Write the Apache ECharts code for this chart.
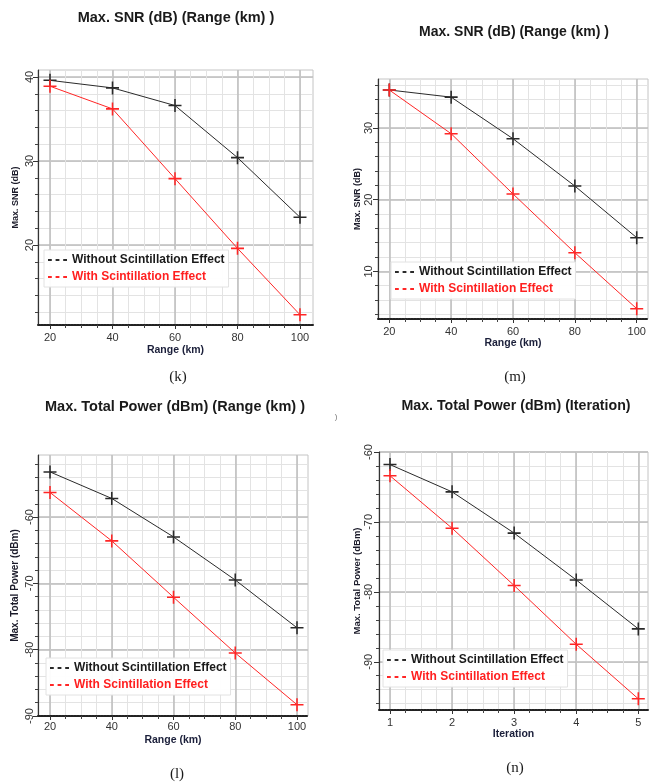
<!DOCTYPE html>
<html>
<head>
<meta charset="utf-8">
<script src="https://cdn.jsdelivr.net/npm/echarts@6/dist/echarts.min.js"></script>
<style>
html,body{margin:0;padding:0;background:#fff;}
#c{width:649px;height:783px;}
</style>
</head>
<body>
<div id="c"></div>
<script>
// ---- data ----
const rangeKm = [20, 40, 60, 80, 100];
const iterations = [1, 2, 3, 4, 5];

const snrK_without = [39.6, 38.7, 36.6, 30.4, 23.3];
const snrK_with    = [38.9, 36.2, 27.9, 19.6, 11.7];
const snrM_without = [35.3, 34.3, 28.5, 21.9, 14.7];
const snrM_with    = [35.3, 29.2, 20.8, 12.6, 4.8];
const powL_without = [-53.2, -57.2, -63.0, -69.5, -76.7];
const powL_with    = [-56.3, -63.6, -72.1, -80.5, -88.3];
const powN_without = [-61.8, -65.7, -71.6, -78.3, -85.3];
const powN_with    = [-63.4, -70.9, -79.1, -87.5, -95.3];

// ---- tick labels / grid ticks ----
const rangeGridTicks  = [20, 25, 30, 35, 40, 45, 50, 55, 60, 65, 70, 75, 80, 85, 90, 95, 100];
const rangeLabelTicks = [20, 40, 60, 80, 100];
const iterGridTicks   = [1, 1.25, 1.5, 1.75, 2, 2.25, 2.5, 2.75, 3, 3.25, 3.5, 3.75, 4, 4.25, 4.5, 4.75, 5];
const iterLabelTicks  = [1, 2, 3, 4, 5];
const snrKGridTicks   = [12, 14, 16, 18, 20, 22, 24, 26, 28, 30, 32, 34, 36, 38, 40];
const snrKLabelTicks  = [20, 30, 40];
const snrMGridTicks   = [4, 6, 8, 10, 12, 14, 16, 18, 20, 22, 24, 26, 28, 30, 32, 34, 36];
const snrMLabelTicks  = [10, 20, 30];
const powLGridTicks   = [-90, -88, -86, -84, -82, -80, -78, -76, -74, -72, -70, -68, -66, -64, -62, -60, -58, -56, -54, -52];
const powLLabelTicks  = [-90, -80, -70, -60];
const powNGridTicks   = [-96, -94, -92, -90, -88, -86, -84, -82, -80, -78, -76, -74, -72, -70, -68, -66, -64, -62, -60];
const powNLabelTicks  = [-90, -80, -70, -60];

const nameWithout = 'Without Scintillation Effect';
const nameWith = 'With Scintillation Effect';

// ---- styling / layout ----
const FONT = 'Liberation Sans';
const BLACK = '#2a2a2a';
const RED = '#ff2626';
const PLUS = 'path://M4.4,0H5.6V4.4H10V5.6H5.6V10H4.4V5.6H0V4.4H4.4Z';
const DASHES = 'path://M0,0H4V2H0Z M8,0H12V2H8Z M16,0H20V2H16Z';

const panels = [
  { grid:{left:38, top:70, width:275, height:255}, x:rangeKm, xMin:16.16, xMax:104.16, yMin:10.48, yMax:40.83,
    xGrid:rangeGridTicks, xLab:rangeLabelTicks, yGrid:snrKGridTicks, yLab:snrKLabelTicks,
    s1:snrK_without, s2:snrK_with, xName:'Range (km)', yName:'Max. SNR (dB)', yNameSize:9,
    xLabMargin:7, xNameGap:20, yLabMargin:3, yNameGap:18, legend:{left:44, top:250} },
  { grid:{left:378, top:79, width:270, height:240}, x:rangeKm, xMin:16.35, xMax:103.65, yMin:3.36, yMax:36.83,
    xGrid:rangeGridTicks, xLab:rangeLabelTicks, yGrid:snrMGridTicks, yLab:snrMLabelTicks,
    s1:snrM_without, s2:snrM_with, xName:'Range (km)', yName:'Max. SNR (dB)', yNameSize:9,
    xLabMargin:7, xNameGap:19, yLabMargin:4, yNameGap:15, legend:{left:391, top:262} },
  { grid:{left:38, top:455, width:270, height:261}, x:rangeKm, xMin:16.11, xMax:103.56, yMin:-90, yMax:-50.65,
    xGrid:rangeGridTicks, xLab:rangeLabelTicks, yGrid:powLGridTicks, yLab:powLLabelTicks,
    s1:powL_without, s2:powL_with, xName:'Range (km)', yName:'Max. Total Power (dBm)', yNameSize:10,
    xLabMargin:5, xNameGap:19, yLabMargin:3, yNameGap:18, legend:{left:46, top:658} },
  { grid:{left:379, top:452, width:269, height:258}, x:iterations, xMin:0.823, xMax:5.156, yMin:-96.9, yMax:-60,
    xGrid:iterGridTicks, xLab:iterLabelTicks, yGrid:powNGridTicks, yLab:powNLabelTicks,
    s1:powN_without, s2:powN_with, xName:'Iteration', yName:'Max. Total Power (dBm)', yNameSize:9.5,
    xLabMargin:7, xNameGap:19, yLabMargin:5, yNameGap:16, legend:{left:383, top:650} }
];

const grids = [], xAxes = [], yAxes = [], series = [], legends = [];
panels.forEach((p, i) => {
  grids.push(Object.assign({ show:true, borderColor:'#c4c4c4', borderWidth:1, backgroundColor:'#fff' }, p.grid));
  // minor x axis
  xAxes.push({ type:'value', gridIndex:i, position:'bottom', min:p.xMin, max:p.xMax,
    axisLine:{show:false}, axisLabel:{show:false},
    axisTick:{show:true, customValues:p.xGrid, length:3, lineStyle:{color:'#444'}},
    splitLine:{show:true, lineStyle:{color:'#e3e3e3', width:1}} });
  // major x axis
  xAxes.push({ type:'value', gridIndex:i, position:'bottom', min:p.xMin, max:p.xMax,
    name:p.xName, nameLocation:'middle', nameGap:p.xNameGap,
    nameTextStyle:{fontFamily:FONT, fontSize:10.5, fontWeight:'bold', color:'#1b1f3a'},
    axisLine:{show:true, lineStyle:{color:'#222', width:2, type:[2,1]}},
    axisTick:{show:true, customValues:p.xLab, length:4, lineStyle:{color:'#333'}},
    axisLabel:{show:true, customValues:p.xLab, margin:p.xLabMargin, fontFamily:FONT, fontSize:11, color:'#333'},
    splitLine:{show:true, lineStyle:{color:'#bdbdbd', width:1.5}} });
  // minor y axis
  yAxes.push({ type:'value', gridIndex:i, position:'left', min:p.yMin, max:p.yMax,
    axisLine:{show:false}, axisLabel:{show:false},
    axisTick:{show:true, customValues:p.yGrid, length:3, lineStyle:{color:'#444'}},
    splitLine:{show:true, lineStyle:{color:'#e3e3e3', width:1}} });
  // major y axis
  yAxes.push({ type:'value', gridIndex:i, position:'left', min:p.yMin, max:p.yMax,
    name:p.yName, nameLocation:'middle', nameGap:p.yNameGap, nameRotate:90,
    nameTextStyle:{fontFamily:FONT, fontSize:p.yNameSize, fontWeight:'bold', color:'#1b1b2a'},
    axisLine:{show:true, lineStyle:{color:'#333', width:1.2}},
    axisTick:{show:true, customValues:p.yLab, length:5, lineStyle:{color:'#333'}},
    axisLabel:{show:true, customValues:p.yLab, rotate:90, margin:p.yLabMargin, fontFamily:FONT, fontSize:11, color:'#333'},
    splitLine:{show:true, lineStyle:{color:'#bdbdbd', width:1.5}} });

  const mk = (name, vals, color) => ({
    type:'line', name, xAxisIndex:2*i+1, yAxisIndex:2*i+1,
    data: p.x.map((xv, k) => [xv, vals[k]]),
    symbol:PLUS, symbolSize:13, showSymbol:true,
    lineStyle:{color, width:1}, itemStyle:{color}, animation:false, z:3
  });
  series.push(mk(nameWithout, p.s1, BLACK));
  series.push(mk(nameWith, p.s2, RED));

  legends.push({ orient:'vertical', left:p.legend.left, top:p.legend.top,
    icon:DASHES, itemWidth:19, itemHeight:2, itemGap:5, padding:[4,4,4,4],
    backgroundColor:'rgba(255,255,255,0.95)', borderColor:'#e2e2e2', borderWidth:1,
    selectedMode:false,
    textStyle:{fontFamily:FONT, fontSize:12, fontWeight:'bold'},
    data:[ {name:nameWithout, textStyle:{color:'#1a1a1a'}}, {name:nameWith, textStyle:{color:'#ff1f1f'}} ] });
});

const texts = [
  {t:'Max. SNR (dB) (Range (km) )', x:176, y:18, size:14.5, bold:true},
  {t:'Max. SNR (dB) (Range (km) )', x:514, y:32, size:14, bold:true},
  {t:'Max. Total Power (dBm) (Range (km) )', x:175, y:407, size:14.5, bold:true},
  {t:'Max. Total Power (dBm) (Iteration)', x:516, y:406, size:14.2, bold:true},
  {t:'(k)', x:178, y:377, size:15, serif:true},
  {t:'(m)', x:515, y:377, size:15, serif:true},
  {t:'(l)', x:177, y:774, size:15, serif:true},
  {t:'(n)', x:515, y:768, size:15, serif:true},
  {t:')', x:336, y:417, size:8, color:'#777'}
];
const graphic = texts.map(o => ({
  type:'text', x:o.x, y:o.y, z:10,
  style:{ text:o.t, fill:o.color || '#1a1a1a', textAlign:'center', textVerticalAlign:'middle',
    font:(o.bold ? 'bold ' : '') + o.size + 'px ' + (o.serif ? '"Liberation Serif"' : '"Liberation Sans"') }
}));

const chart = echarts.init(document.getElementById('c'), null, {renderer:'canvas'});
chart.setOption({
  animation:false,
  backgroundColor:'#fff',
  grid:grids, xAxis:xAxes, yAxis:yAxes, series, legend:legends, graphic
});
</script>
</body>
</html>
